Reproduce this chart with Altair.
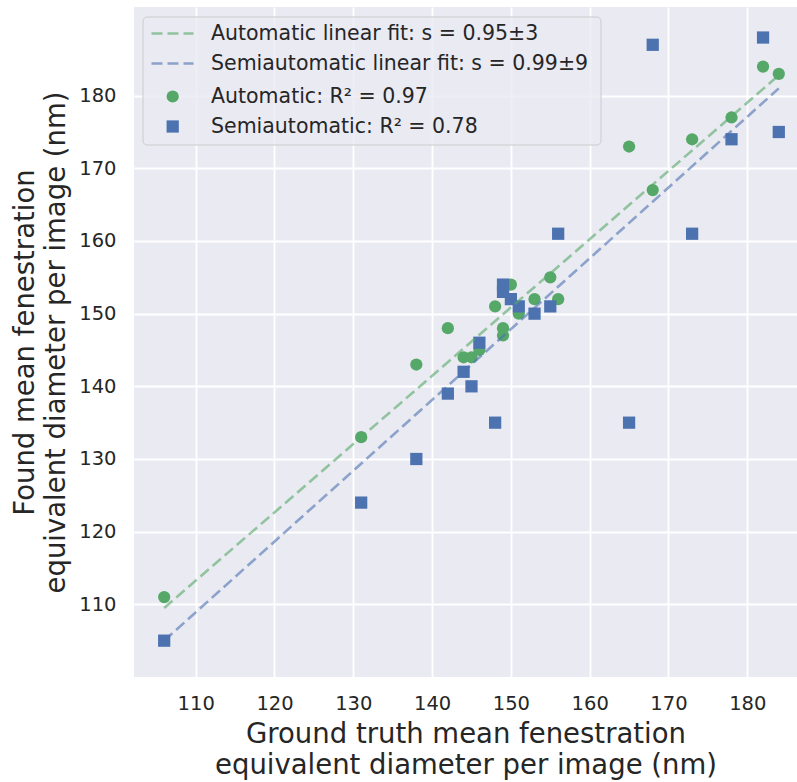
import altair as alt
import pandas as pd

# Ground-truth (x) and found (y) mean fenestration diameters per image
gt_auto = [106, 131, 138, 142, 144, 145, 146, 148, 149, 149, 150, 151, 153, 155, 156, 165, 168, 173, 178, 182, 184]
found_auto = [111, 133, 143, 148, 144, 144, 145, 151, 148, 147, 154, 150, 152, 155, 152, 173, 167, 174, 177, 184, 183]

gt_semi = [106, 131, 138, 142, 144, 145, 146, 148, 149, 149, 150, 151, 153, 155, 156, 165, 168, 173, 178, 182, 184]
found_semi = [105, 124, 130, 139, 142, 140, 146, 135, 154, 153, 152, 151, 150, 151, 161, 135, 187, 161, 174, 188, 175]

# Linear fit end points
fit_x = [106, 184]
fit_auto_y = [109.5, 182.8]
fit_semi_y = [105.0, 181.0]

legend_labels = [
    "Automatic linear fit: s = 0.95±3",
    "Semiautomatic linear fit: s = 0.99±9",
    "Automatic: R² = 0.97",
    "Semiautomatic: R² = 0.78",
]

x_ticks = [110, 120, 130, 140, 150, 160, 170, 180]
y_ticks = [110, 120, 130, 140, 150, 160, 170, 180]

GREEN = "#55A868"
BLUE = "#4C72B0"
TXT = "#262626"
FONT = "DejaVu Sans"

auto_df = pd.DataFrame({"gt": gt_auto, "found": found_auto})
semi_df = pd.DataFrame({"gt": gt_semi, "found": found_semi})
fit_auto_df = pd.DataFrame({"gt": fit_x, "found": fit_auto_y})
fit_semi_df = pd.DataFrame({"gt": fit_x, "found": fit_semi_y})

xs = alt.Scale(domain=[102.17, 186.31], nice=False, zero=False)
ys = alt.Scale(domain=[100.0, 192.2], nice=False, zero=False)

X = alt.X(
    "gt:Q",
    scale=xs,
    axis=alt.Axis(
        values=x_ticks,
        title=["Ground truth mean fenestration", "equivalent diameter per image (nm)"],
    ),
)
Y = alt.Y(
    "found:Q",
    scale=ys,
    axis=alt.Axis(
        values=y_ticks,
        title=["Found mean fenestration", "equivalent diameter per image (nm)"],
    ),
)

CIRCLE_SIZE = 150
SQUARE_SIZE = 150

pts_auto = alt.Chart(auto_df).mark_point(
    filled=True, shape="circle", size=CIRCLE_SIZE, color=GREEN, opacity=1
).encode(x=X, y=Y)
pts_semi = alt.Chart(semi_df).mark_point(
    filled=True, shape="square", size=SQUARE_SIZE, color=BLUE, opacity=1
).encode(x=X, y=Y)

line_auto = alt.Chart(fit_auto_df).mark_line(
    color=GREEN, strokeDash=[11, 5], strokeWidth=2.6, opacity=0.6
).encode(x=X, y=Y)
line_semi = alt.Chart(fit_semi_df).mark_line(
    color=BLUE, strokeDash=[11, 5], strokeWidth=2.6, opacity=0.6
).encode(x=X, y=Y)

# ---- legend (drawn by hand, in pixel space of the plot area) ----
leg_box = alt.Chart(pd.DataFrame({"a": [0]})).mark_rect(
    fill="#EAEAF2", fillOpacity=0.8, stroke="#CCCCCC", strokeWidth=1, cornerRadius=4
).encode(x=alt.value(9), x2=alt.value(467), y=alt.value(10), y2=alt.value(138))

rows_y = [26.5, 56.5, 89.5, 119.5]
leg_layers = [leg_box]
for i, col in enumerate([GREEN, BLUE]):
    leg_layers.append(
        alt.Chart(pd.DataFrame({"a": [0]})).mark_rule(
            color=col, strokeDash=[11, 5], strokeWidth=2.6, opacity=0.6
        ).encode(x=alt.value(17.5), x2=alt.value(59.5), y=alt.value(rows_y[i]))
    )
leg_layers.append(
    alt.Chart(pd.DataFrame({"a": [0]})).mark_point(
        filled=True, shape="circle", size=CIRCLE_SIZE, color=GREEN, opacity=1
    ).encode(x=alt.value(38.7), y=alt.value(rows_y[2]))
)
leg_layers.append(
    alt.Chart(pd.DataFrame({"a": [0]})).mark_point(
        filled=True, shape="square", size=SQUARE_SIZE, color=BLUE, opacity=1
    ).encode(x=alt.value(38.7), y=alt.value(rows_y[3]))
)
for i, lab in enumerate(legend_labels):
    leg_layers.append(
        alt.Chart(pd.DataFrame({"label": [lab]})).mark_text(
            align="left", baseline="middle", font=FONT, fontSize=20.5, color=TXT
        ).encode(x=alt.value(77), y=alt.value(rows_y[i]), text="label:N")
    )

chart = alt.layer(
    pts_auto, pts_semi, line_auto, line_semi, *leg_layers
).properties(
    width=663,
    height=670,
    autosize=alt.AutoSizeParams(type="none"),
    padding={"left": 134, "top": 7, "right": 0, "bottom": 105},
    background="white",
).configure_view(
    fill="#EAEAF2", stroke=None
).configure_axis(
    grid=True,
    gridColor="white",
    gridWidth=1.8,
    ticks=False,
    tickSize=0,
    domain=False,
    labelFont=FONT,
    labelFontSize=19.5,
    labelColor=TXT,
    titleFont=FONT,
    titleFontSize=27.5,
    titleFontWeight="normal",
    titleColor=TXT,
    titleLineHeight=31,
).configure_axisX(
    labelPadding=17,
    titlePadding=8,
).configure_axisY(
    labelPadding=18,
    titlePadding=8,
)

chart.save("out.html", embed_options={"renderer": "svg", "actions": False})
